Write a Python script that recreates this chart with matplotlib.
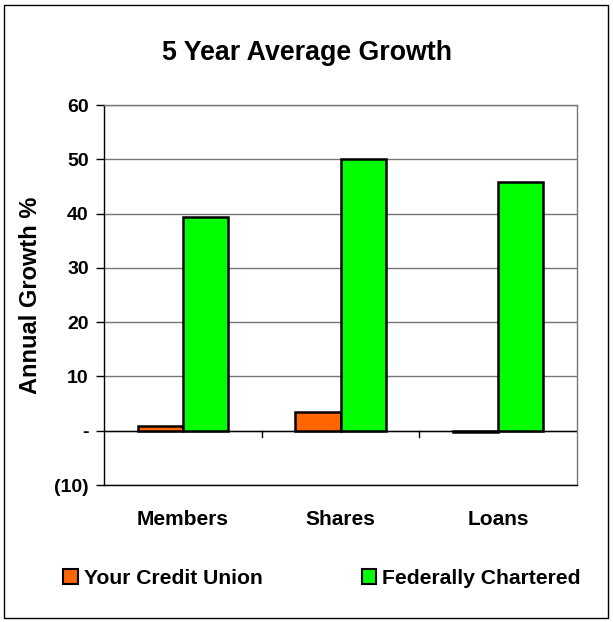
import matplotlib
matplotlib.use("Agg")
import matplotlib.pyplot as plt
from matplotlib.patches import Rectangle, Patch
from matplotlib.ticker import FuncFormatter, MultipleLocator
import numpy as np

plt.rcParams['font.family'] = ['Liberation Sans', 'DejaVu Sans']
plt.rcParams['font.weight'] = 'bold'

# Data
categories = ["Members", "Shares", "Loans"]
series_names = ["Your Credit Union", "Federally Chartered"]
credit_union = [0.8, 3.5, -0.3]
federal = [39.3, 50.0, 45.9]
series_colors = ["#FF6600", "#00FF00"]

W, H = 613, 622
fig = plt.figure(figsize=(W / 100, H / 100), dpi=100)
fig.patch.set_facecolor("white")

# Outer chart border
fig.patches.append(Rectangle((4 / W, 4 / H), 1 - 9 / W, 1 - 9 / H,
                             transform=fig.transFigure, fill=False,
                             edgecolor="black", linewidth=1.0))

left, right, top, bottom = 104, 577, 105, 485
ax = fig.add_axes([left / W, 1 - bottom / H, (right - left) / W, (bottom - top) / H])

x = np.arange(len(categories))
bw = 0.287
ax.bar(x - bw / 2, credit_union, bw, color=series_colors[0], edgecolor="black",
       linewidth=1.8, zorder=3)
ax.bar(x + bw / 2, federal, bw, color=series_colors[1], edgecolor="black",
       linewidth=1.8, zorder=3)

ax.set_xlim(-0.5, len(categories) - 0.5)
ax.set_ylim(-10, 60)
ax.yaxis.set_major_locator(MultipleLocator(10))


def fmt(v, pos):
    v = int(round(v))
    if v == 0:
        return "-"
    if v < 0:
        return f"({-v})"
    return f"{v}"


ax.yaxis.set_major_formatter(FuncFormatter(fmt))
ax.grid(axis="y", color="#777777", linewidth=1.0, zorder=0)
ax.set_axisbelow(True)

# zero line acting as the category axis
ax.axhline(0, color="black", linewidth=1.0, zorder=2)
for b in np.arange(0.5, len(categories) - 0.5, 1.0):
    ax.plot([b, b], [0, -1.1], color="black", linewidth=1.0, zorder=2)

ax.set_xticks(x)
ax.set_xticklabels(categories, fontsize=15, fontweight="bold")
ax.tick_params(axis="x", length=0, pad=18)
ax.tick_params(axis="y", length=6, width=1.0, direction="out", pad=5,
               labelsize=14)
for lab in ax.get_yticklabels():
    lab.set_fontweight("bold")

for s in ax.spines.values():
    s.set_color("black")
    s.set_linewidth(1.0)
ax.spines["right"].set_color("#777777")
ax.spines["top"].set_color("#777777")

ax.set_ylabel("Annual Growth %", fontsize=17, fontweight="bold", labelpad=9)

fig.text(0.5, 1 - 53 / H, "5 Year Average Growth", ha="center", va="center",
         fontsize=19.3, fontweight="bold")

handles = [Patch(facecolor=c, edgecolor="black", linewidth=1.5) for c in series_colors]
fig.legend(handles, series_names, loc="center left", ncol=2,
           bbox_to_anchor=(63 / W, 1 - 578 / H), frameon=False,
           prop={"size": 15.2, "weight": "bold"}, handlelength=0.7, handleheight=0.7,
           handletextpad=0.28, columnspacing=4.7, borderpad=0, borderaxespad=0)

fig.savefig("out.png", dpi=100)
